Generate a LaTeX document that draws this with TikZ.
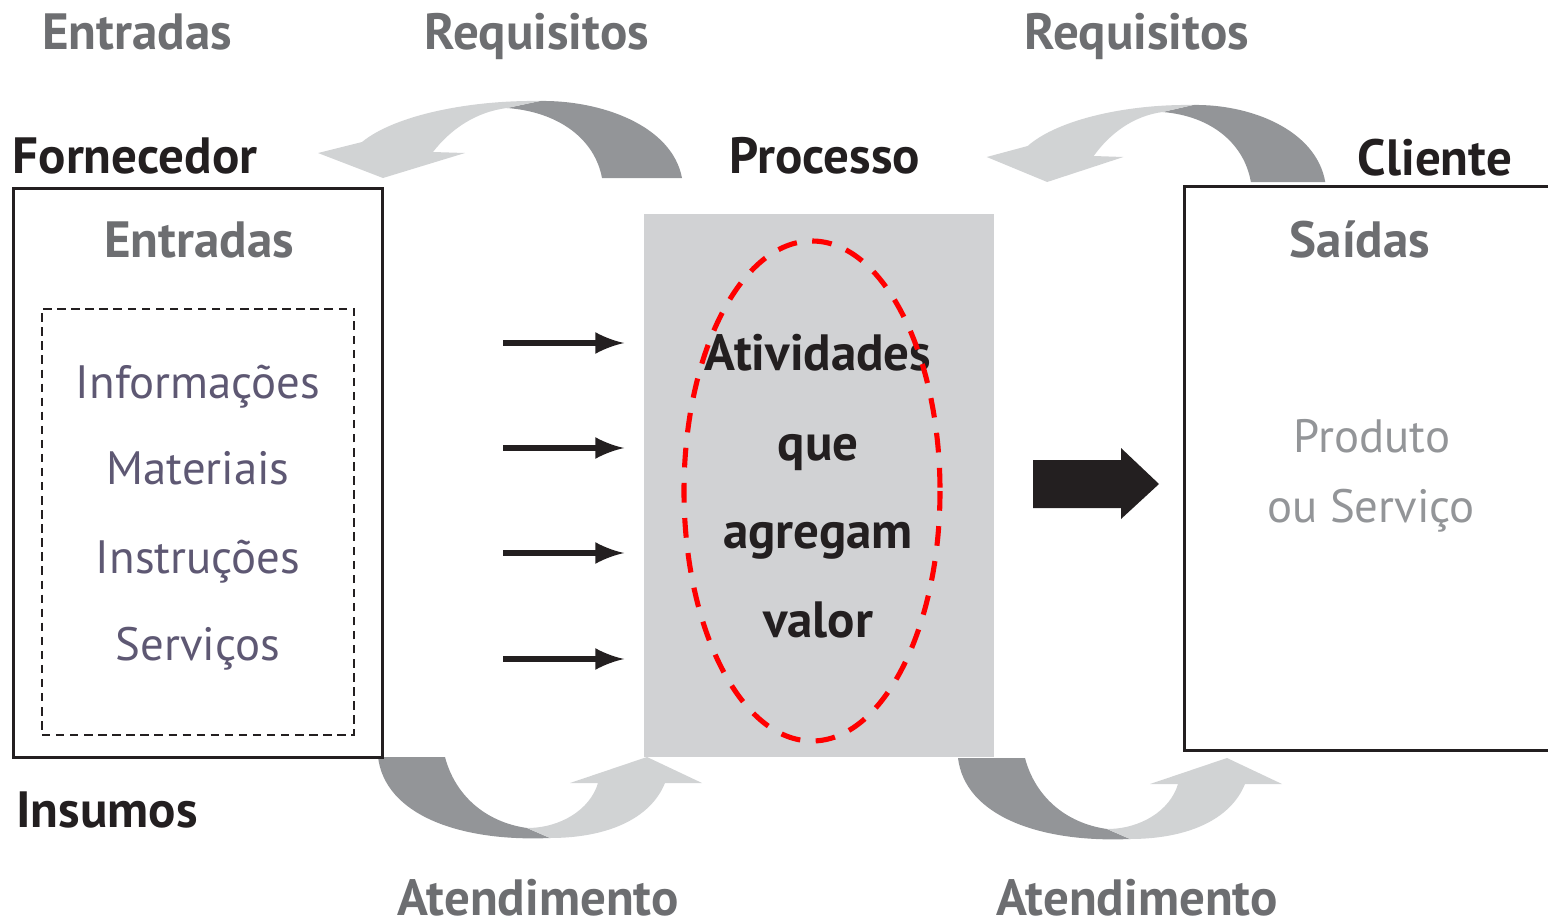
\documentclass[tikz,border=0pt]{standalone}
\usepackage{fontspec}
\setmainfont{PT Sans}

\definecolor{preto}{HTML}{231F20}
\definecolor{cinzaTexto}{HTML}{6D6E71}
\definecolor{cinzaItem}{HTML}{5E5873}
\definecolor{cinzaSaida}{HTML}{939598}
\definecolor{cinzaEscuro}{HTML}{939598}
\definecolor{cinzaClaro}{HTML}{D1D3D4}
\definecolor{cinzaProc}{HTML}{D1D2D4}

% seta curva de cima (requisitos)
\newcommand{\arcoCima}{%
  \fill [cinzaEscuro] (540,101) .. controls (600,100) and (672,125) .. (682,178)
    -- (602,178) .. controls (595,140) and (560,112) .. (507,108) -- cycle;
  \fill [cinzaClaro] (540,101) .. controls (470,100) and (395,115) .. (362,142)
    -- (318,153) -- (383,178) -- (465,153) -- (433,152)
    .. controls (450,130) and (475,112) .. (507,108) -- cycle;
}
% seta curva de baixo (atendimento)
\newcommand{\arcoBaixo}{%
  \fill [cinzaEscuro] (378,757) -- (445,757) .. controls (455,795) and (485,822) .. (527,828)
    -- (550,838) .. controls (460,842) and (385,815) .. (378,757) -- cycle;
  \fill [cinzaClaro] (527,828) .. controls (560,828) and (590,810) .. (598,783)
    -- (570,783) -- (647,757) -- (702,783) -- (665,783)
    .. controls (650,820) and (605,838) .. (550,838) -- cycle;
}

\begin{document}
\begin{tikzpicture}[x=0.01cm, y=-0.01cm,
    rotulo/.style={anchor=base, inner sep=0pt, text=preto, font=\fontsize{14.5}{16}\selectfont\bfseries},
    rotuloCinza/.style={rotulo, text=cinzaTexto},
    item/.style={anchor=base, inner sep=0pt, text=cinzaItem, font=\fontsize{13.3}{16}\selectfont},
    saida/.style={item, text=cinzaSaida},
    setinha/.style={draw=preto, line width=1.8pt, -latex, shorten >=0.19cm}]
    \useasboundingbox (0,0) rectangle (1548,918);

    % setas curvas
    \arcoCima
    \begin{scope}[shift={(691,4)}, xscale=0.93]
        \arcoCima
    \end{scope}
    \arcoBaixo
    \begin{scope}[shift={(580,1)}]
        \arcoBaixo
    \end{scope}

    % caixas
    \node (fornecedorBox) [draw=preto, line width=0.8pt, fill=white, minimum width=3.68cm, minimum height=5.68cm] at (198,473) {};
    \node (insumosBox) [draw=preto, line width=0.6pt, dash pattern=on 2.4pt off 1.6pt, minimum width=3.12cm, minimum height=4.26cm] at (198,522) {};
    \node (procBox) [fill=cinzaProc, minimum width=3.5cm, minimum height=5.43cm, inner sep=0pt] at (819,485.5) {};
    \node (clienteBox) [draw=preto, line width=0.8pt, fill=white, minimum width=3.8cm, minimum height=5.63cm] at (1375,468.5) {};

    % textos de cima
    \node [rotuloCinza] (entradasTopo) at (137,50) {Entradas};
    \node [rotuloCinza] (requisitosEsq) at (537,50) {Requisitos};
    \node [rotuloCinza] (requisitosDir) at (1137,50) {Requisitos};
    \node [rotulo] (fornecedor) at (135,173) {Fornecedor};
    \node [rotulo] (processo) at (825,173) {Processo};
    \node [rotulo] (cliente) at (1435,175) {Cliente};

    % fornecedor
    \node [rotuloCinza] (entradas) at (199,257) {Entradas};
    \foreach \txt/\y [count=\i] in {Informações/398, Materiais/484, Instruções/573, Serviços/660}
        \node [item] (item\i) at (198,\y) {\txt};

    % setas de entrada
    \foreach \y [count=\i] in {343, 448, 553, 659} {
        \coordinate (e\i) at (503,\y);
        \draw [setinha] (e\i) -- (e\i -| procBox.west);
    }

    % processo
    \foreach \txt/\y [count=\i] in {Atividades/370, que/460, agregam/548, valor/637}
        \node [rotulo] (ativ\i) at (818,\y) {\txt};
    \draw [red, line width=1.45pt, dash pattern=on 5.6pt off 4.4pt] (812,491) ellipse [x radius=128, y radius=250];

    % seta grande
    \fill [preto] (1033,460) -- (1121,460) -- (1121,448) -- (1159,484) -- (1121,519) -- (1121,508) -- (1033,508) -- cycle;

    % cliente
    \node [rotuloCinza] (saidas) at (1360,257) {Saídas};
    \node [saida] (produto) at (1372,452) {Produto};
    \node [saida] (servico) at (1371,522) {ou Serviço};

    % textos de baixo
    \node [rotulo] (insumos) at (107,827) {Insumos};
    \node [rotuloCinza] (atendEsq) at (538,915) {Atendimento};
    \node [rotuloCinza] (atendDir) at (1137,915) {Atendimento};
\end{tikzpicture}
\end{document}
